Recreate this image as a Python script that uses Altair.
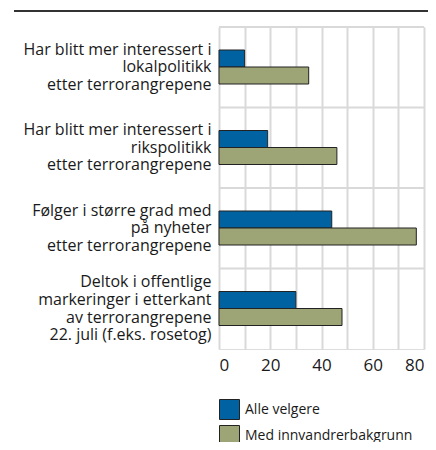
import altair as alt
import pandas as pd

categories = [
    "Har blitt mer interessert i|lokalpolitikk|etter terrorangrepene",
    "Har blitt mer interessert i|rikspolitikk|etter terrorangrepene",
    "Følger i større grad med|på nyheter|etter terrorangrepene",
    "Deltok i offentlige|markeringer i etterkant|av terrorangrepene|22. juli (f.eks. rosetog)",
]
series = ["Alle velgere", "Med innvandrerbakgrunn"]
alle_velgere = [10, 19, 44, 30]
med_innvandrerbakgrunn = [35, 46, 77, 48]
x_ticks = [0, 10, 20, 30, 40, 50, 60, 70, 80]
colors = ["#0062a0", "#9da476"]

rows = []
for c, a, m in zip(categories, alle_velgere, med_innvandrerbakgrunn):
    rows.append({"cat": c, "serie": series[0], "value": a})
    rows.append({"cat": c, "serie": series[1], "value": m})
df = pd.DataFrame(rows)
sep = pd.DataFrame({"cat": categories})

FONT = "Open Sans"
LH = 17.7

yscale = alt.Scale(domain=categories, paddingInner=0, paddingOuter=0)
yaxis = alt.Axis(
    labelExpr="split(datum.label, '|')",
    labelFontSize=16,
    labelLineHeight=LH,
    labelColor="#1a1a1a",
    labelPadding=8,
    labelOffset={
        "condition": {"test": "indexof(datum.value, '22. juli') >= 0", "value": -1.5 * LH},
        "value": -LH,
    },
    ticks=False,
    domain=False,
    grid=False,
    labelFont=FONT,
    labelLimit=400,
)

seps = alt.Chart(sep).mark_rule(color="#d9d9d9", strokeWidth=2).encode(
    y=alt.Y("cat:N", bandPosition=0, scale=yscale, sort=categories, title=None, axis=yaxis)
)

bars = alt.Chart(df).mark_bar(stroke="#222222", strokeWidth=1).encode(
    y=alt.Y("cat:N", sort=categories, scale=yscale, title=None, axis=yaxis),
    yOffset=alt.YOffset(
        "serie:N", sort=series,
        scale=alt.Scale(domain=series, range=[23, 57], paddingOuter=0, paddingInner=0),
    ),
    x=alt.X(
        "value:Q",
        scale=alt.Scale(domain=[0, 80], nice=False),
        title=None,
        axis=alt.Axis(
            values=x_ticks,
            labelExpr="datum.value % 20 == 0 ? datum.label : ''",
            labelFontSize=17,
            labelColor="#1a1a1a",
            labelFont=FONT,
            labelPadding=8,
            ticks=False,
            domain=False,
            grid=True,
            gridColor="#d9d9d9",
            gridWidth=2,
        ),
    ),
    color=alt.Color(
        "serie:N",
        scale=alt.Scale(domain=series, range=colors),
        legend=alt.Legend(
            title=None,
            orient="none",
            legendX=0,
            legendY=372,
            symbolType="square",
            symbolSize=400,
            symbolStrokeColor="#222222",
            symbolStrokeWidth=1,
            symbolOpacity=1,
            labelFontSize=14,
            labelFont=FONT,
            labelColor="#1a1a1a",
            labelOffset=5,
            labelLimit=0,
            rowPadding=1,
            padding=0,
        ),
    ),
)

topline = alt.Chart(sep).mark_rule(color="#333333", strokeWidth=1.5).encode(
    x=alt.value(-205), x2=alt.value(220), y=alt.value(-16)
)

chart = alt.layer(seps, bars, topline).properties(
    width=205,
    height=322,
    autosize=alt.AutoSizeParams(type="none"),
    padding={"left": 211, "top": 19, "right": 4, "bottom": 93},
).configure_view(stroke="#d9d9d9", strokeWidth=2).configure(background="white")

chart.save("out.html", embed_options={"renderer": "svg", "actions": False})
